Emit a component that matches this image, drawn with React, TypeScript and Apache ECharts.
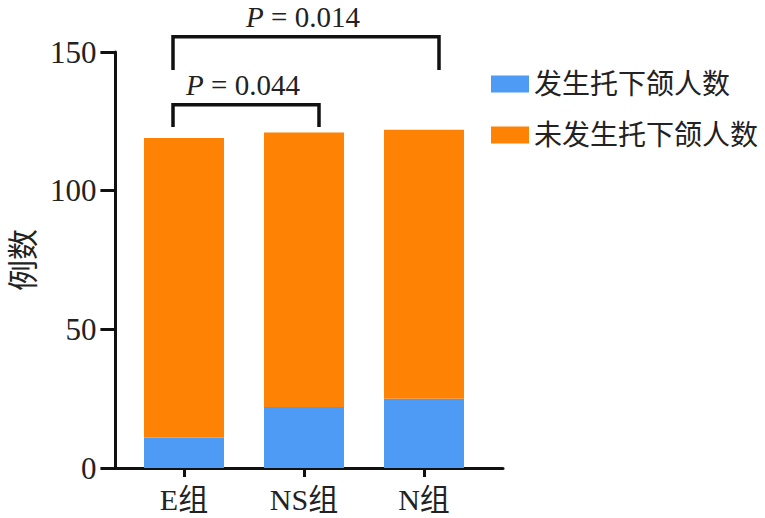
import React, { useEffect, useRef } from "react";
import * as echarts from "echarts";

const categories = ["E组", "NS组", "N组"];
const occurred = [11, 22, 25];
const notOccurred = [108, 99, 97];
const seriesNames = ["发生托下颌人数", "未发生托下颌人数"];
// brackets: from category index, to category index, top level, leg bottom level, p-value
const bracketFrom = [0, 0];
const bracketTo = [2, 1];
const bracketTop = [155.5, 131];
const bracketLeg = [143.5, 123];
const bracketP = ["0.014", "0.044"];

const FONT = "'Liberation Serif', 'Times New Roman', 'Noto Sans CJK SC', serif";
const AXIS = "#111";

export default function App() {
  const ref = useRef<HTMLDivElement>(null);
  useEffect(() => {
    if (!ref.current) return;
    const chart = echarts.init(ref.current, null, { renderer: "svg" });
    const bracketData = bracketFrom.map((f, i) => [f, bracketTo[i], bracketTop[i], bracketLeg[i], bracketP[i]]);
    chart.setOption({
      animation: false,
      backgroundColor: "#ffffff",
      textStyle: { fontFamily: FONT },
      grid: [
        { left: 124, top: 52, width: 360, height: 416 },
        { left: 103, top: 52, width: 400, height: 416 },
      ],
      legend: {
        orient: "vertical",
        left: 486,
        top: 65,
        itemWidth: 38,
        itemHeight: 17,
        itemGap: 23,
        icon: "rect",
        data: seriesNames,
        textStyle: { fontSize: 28, color: "#222", fontFamily: FONT },
      },
      xAxis: [
        {
          type: "category",
          gridIndex: 0,
          data: categories,
          axisLine: { show: false },
          axisTick: { show: true, alignWithLabel: true, length: 9, lineStyle: { color: AXIS, width: 3 } },
          axisLabel: { fontSize: 30, color: "#222", margin: 16, fontFamily: FONT },
          splitLine: { show: false },
        },
        {
          type: "value",
          gridIndex: 1,
          min: 0,
          max: 1,
          axisLine: { show: true, lineStyle: { color: AXIS, width: 3 } },
          axisTick: { show: false },
          axisLabel: { show: false },
          splitLine: { show: false },
        },
      ],
      yAxis: [
        {
          type: "value",
          gridIndex: 0,
          min: 0,
          max: 150,
          interval: 50,
          show: false,
          splitLine: { show: false },
        },
        {
          type: "value",
          gridIndex: 1,
          min: 0,
          max: 150,
          interval: 50,
          name: "例数",
          nameLocation: "middle",
          nameGap: 72,
          nameTextStyle: { fontSize: 31, color: "#222", fontFamily: FONT },
          splitLine: { show: false },
          axisLine: { show: true, lineStyle: { color: AXIS, width: 3 } },
          axisTick: { show: true, length: 15, lineStyle: { color: AXIS, width: 3 } },
          axisLabel: { fontSize: 31, color: "#222", margin: 19, fontFamily: FONT },
        },
      ],
      series: [
        {
          name: seriesNames[0],
          type: "bar",
          xAxisIndex: 0,
          yAxisIndex: 0,
          stack: "total",
          barWidth: 80,
          itemStyle: { color: "#4e9bf6" },
          data: occurred,
        },
        {
          name: seriesNames[1],
          type: "bar",
          xAxisIndex: 0,
          yAxisIndex: 0,
          stack: "total",
          barWidth: 80,
          itemStyle: { color: "#fe8203" },
          data: notOccurred,
        },
        {
          type: "custom",
          xAxisIndex: 0,
          yAxisIndex: 0,
          clip: false,
          silent: true,
          encode: { x: 0, y: 2 },
          data: bracketData,
          renderItem: (params: any, api: any) => {
            const p1 = api.coord([api.value(0), api.value(2)]);
            const p2 = api.coord([api.value(1), api.value(2)]);
            const legY = api.coord([api.value(0), api.value(3)])[1];
            const left = p1[0] - 11;
            const right = p2[0] + 15;
            const top = p1[1];
            return {
              type: "group",
              children: [
                {
                  type: "polyline",
                  shape: { points: [[left, legY], [left, top], [right, top], [right, legY]] },
                  style: { stroke: AXIS, lineWidth: 3.5, fill: null },
                },
                {
                  type: "text",
                  x: (left + right) / 2 - 3,
                  y: top - 20,
                  style: {
                    text: "{i|P} = " + api.value(4),
                    rich: { i: { fontStyle: "italic", fontSize: 29, fontFamily: FONT, fill: "#222" } },
                    fontSize: 29,
                    fontFamily: FONT,
                    fill: "#222",
                    align: "center",
                    verticalAlign: "middle",
                  },
                },
              ],
            };
          },
        },
      ],
    });
    return () => chart.dispose();
  }, []);
  return <div ref={ref} style={{ position: "fixed", left: 0, top: 0, width: 765, height: 518 }} />;
}
